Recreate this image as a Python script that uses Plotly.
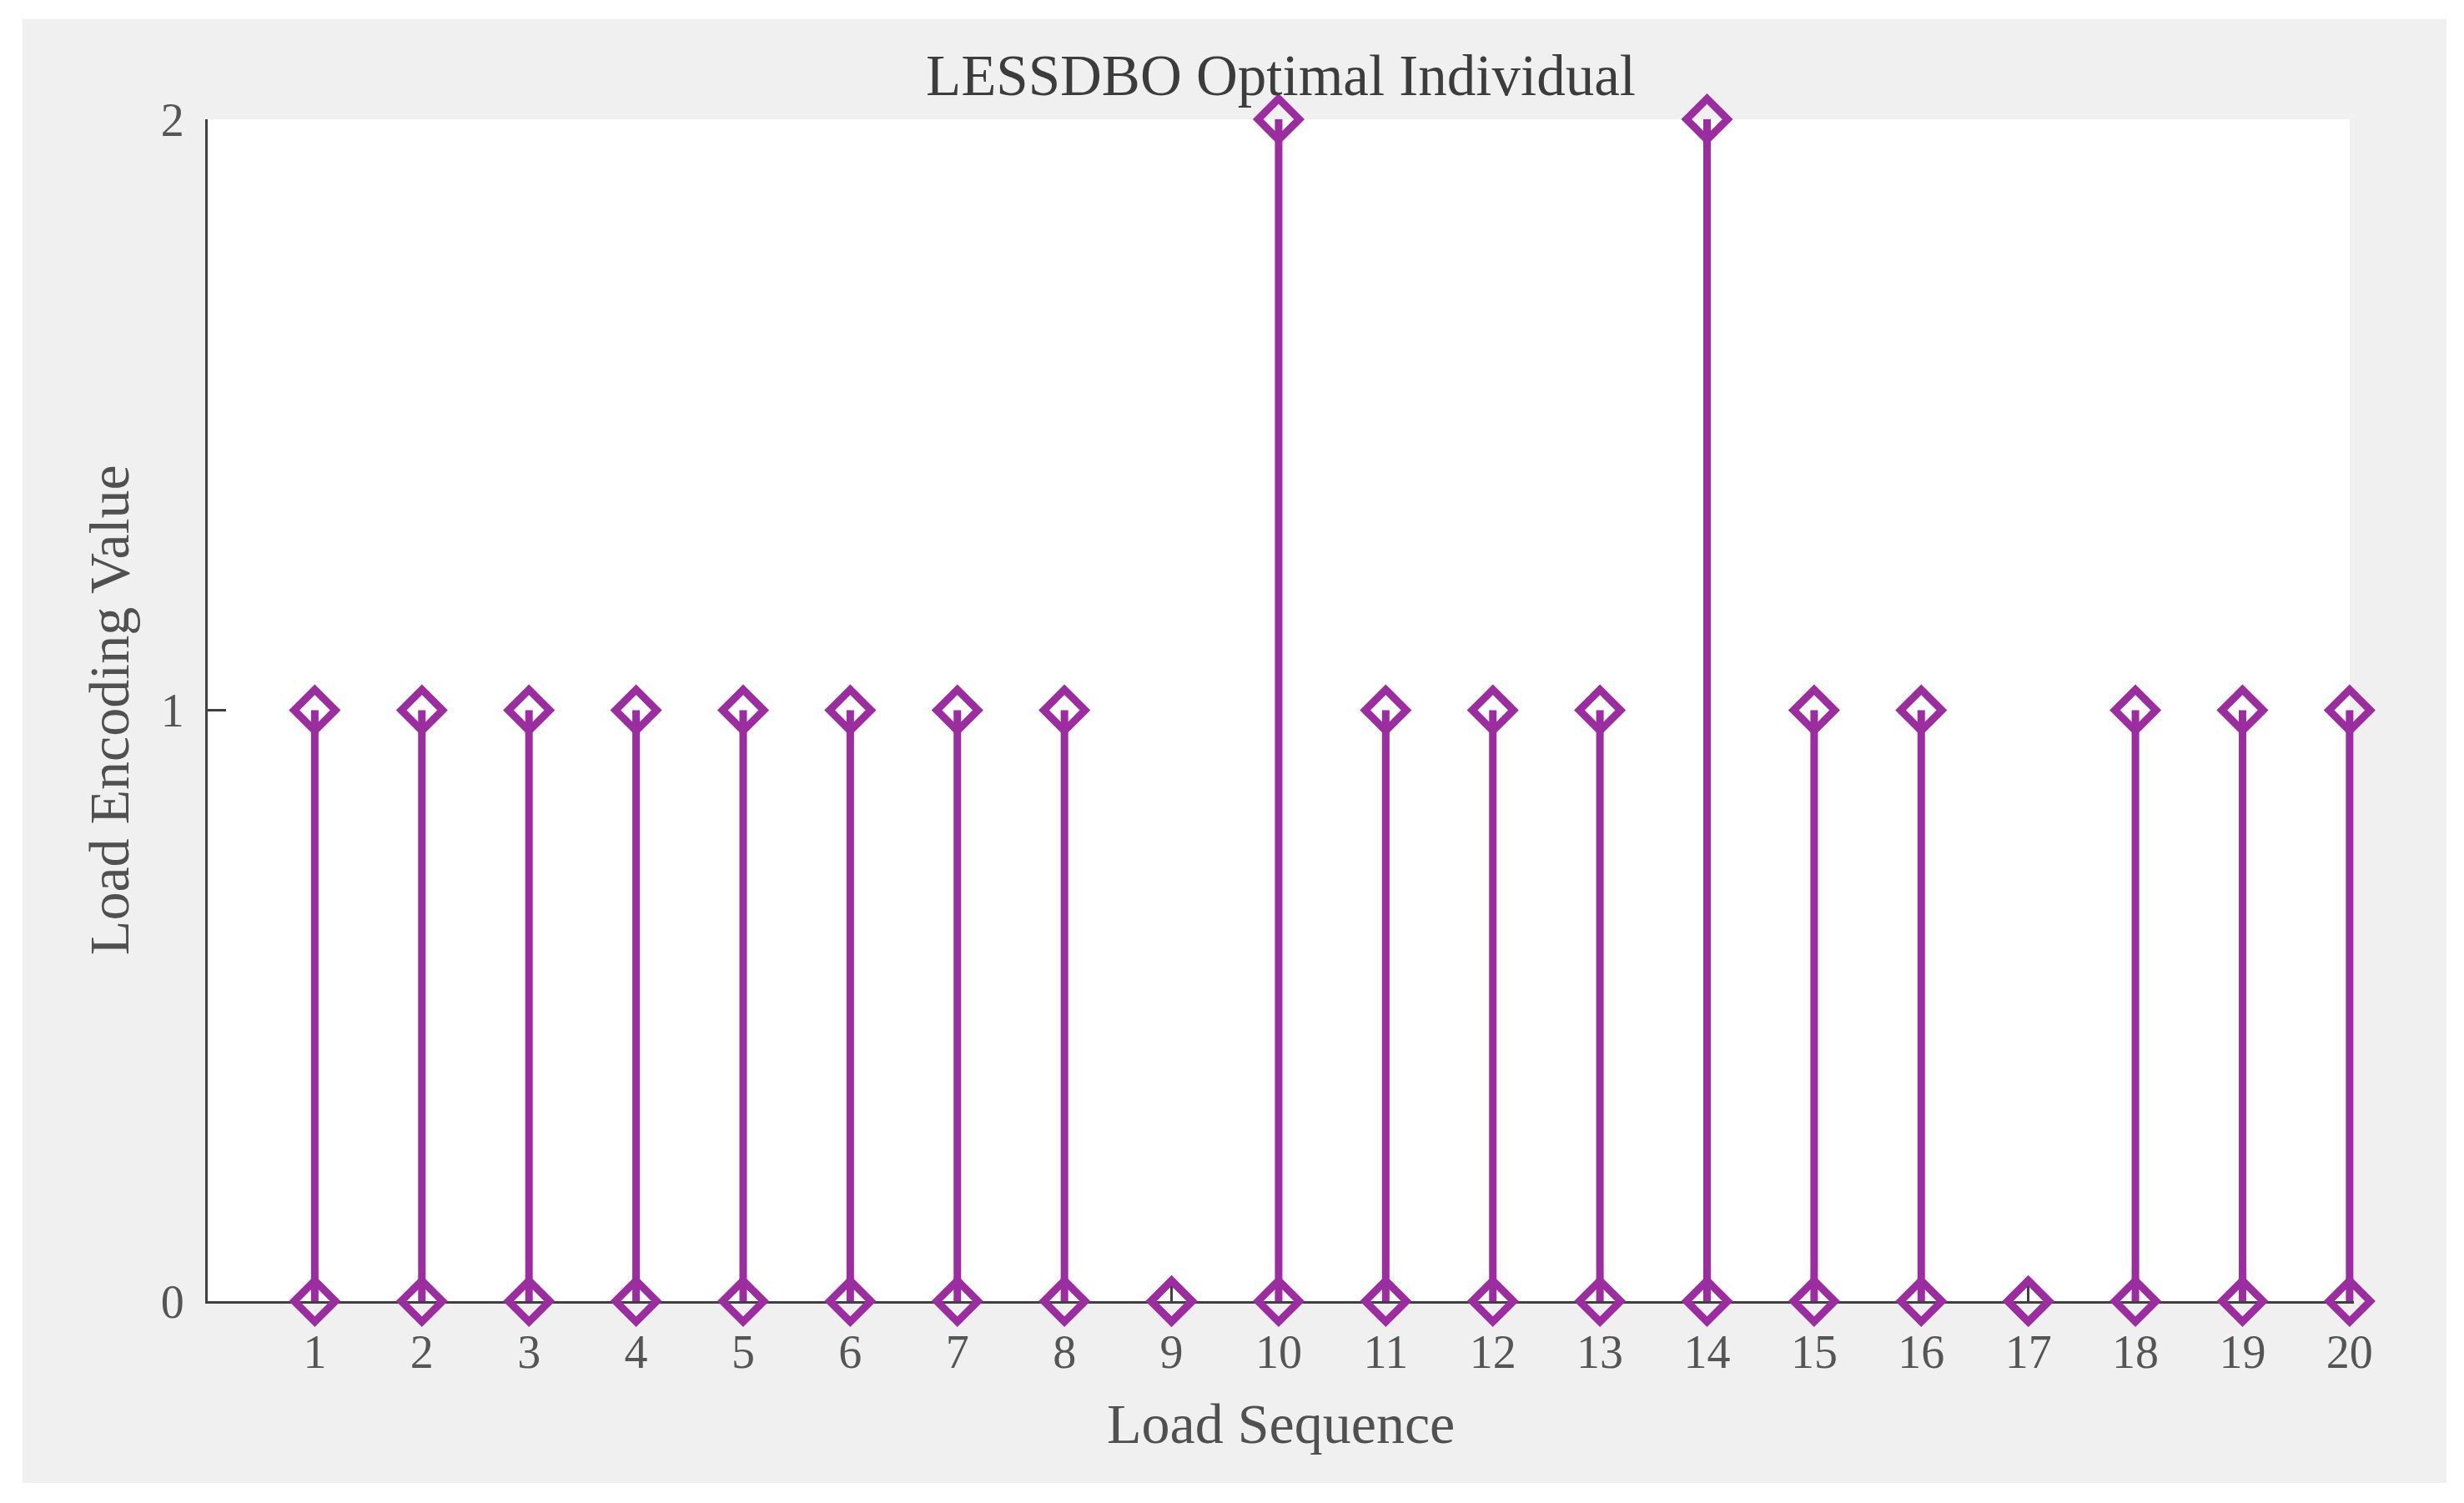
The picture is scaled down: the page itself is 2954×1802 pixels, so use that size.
import plotly.graph_objects as go

# load sequence index and the encoding value of the optimal individual
load_seq = [1, 2, 3, 4, 5, 6, 7, 8, 9, 10, 11, 12, 13, 14, 15, 16, 17, 18, 19, 20]
encoding = [1, 1, 1, 1, 1, 1, 1, 1, 0, 2, 1, 1, 1, 2, 1, 1, 0, 1, 1, 1]
baseline = [0, 0, 0, 0, 0, 0, 0, 0, 0, 0, 0, 0, 0, 0, 0, 0, 0, 0, 0, 0]
y_ticks = [0, 1, 2]

purple = "#9b2da0"
txt = "#3c3c3c"
serif = "Liberation Serif, Times New Roman, serif"

# stems: one segment per point, separated by None
stem_x, stem_y = [], []
for x, b, v in zip(load_seq, baseline, encoding):
    stem_x += [x, x, None]
    stem_y += [b, v, None]

fig = go.Figure()
fig.add_trace(go.Scatter(x=stem_x, y=stem_y, mode="lines",
                         line=dict(color=purple, width=9),
                         hoverinfo="skip", cliponaxis=False))
for yy in (baseline, encoding):
    fig.add_trace(go.Scatter(x=load_seq, y=yy, mode="markers",
                             marker=dict(symbol="diamond-open", size=38, color=purple,
                                         line=dict(color=purple, width=9)),
                             cliponaxis=False))

# grey figure panel with a white border, and white axes area
fig.add_shape(type="rect", xref="paper", yref="paper", x0=-0.0864, x1=1.0432,
              y0=-0.1538, y1=1.0847, fillcolor="#f0f0f0", line_width=0, layer="below")
fig.add_shape(type="rect", xref="x", yref="paper", x0=0, x1=20, y0=0, y1=1,
              fillcolor="white", line_width=0, layer="below")

fig.add_annotation(text="LESSDBO Optimal Individual", xref="paper", yref="paper",
                   x=0.5, y=1.037, xanchor="center", yanchor="middle", showarrow=False,
                   font=dict(family=serif, size=69, color=txt))
fig.add_annotation(text="Load Sequence", xref="paper", yref="paper",
                   x=0.5, y=-0.104, xanchor="center", yanchor="middle", showarrow=False,
                   font=dict(family=serif, size=68, color="#505050"))
fig.add_annotation(text="Load Encoding Value", xref="paper", yref="paper",
                   x=-0.046, y=0.5, xanchor="center", yanchor="middle", showarrow=False,
                   textangle=-90, font=dict(family=serif, size=68, color="#505050"))

fig.update_layout(
    width=2954, height=1802,
    margin=dict(l=241, r=140, t=135, b=250, autoexpand=False),
    paper_bgcolor="white", plot_bgcolor="#f0f0f0",
    showlegend=False,
)
fig.update_xaxes(range=[0, 20.04], tickvals=load_seq, ticks="inside", ticklen=22,
                 tickwidth=3, tickcolor="#404040", showline=True, linecolor="#404040",
                 linewidth=3, showgrid=False, zeroline=False, layer="below traces",
                 tickfont=dict(family=serif, size=56, color="#555555"),
                 ticklabelstandoff=10)
fig.update_yaxes(range=[0, 2], tickvals=y_ticks, ticks="inside", ticklen=22,
                 tickwidth=3, tickcolor="#404040", showline=True, linecolor="#404040",
                 linewidth=3, showgrid=False, zeroline=False, layer="below traces",
                 tickfont=dict(family=serif, size=56, color="#555555"),
                 ticklabelstandoff=14)

fig.write_html("out.html")
